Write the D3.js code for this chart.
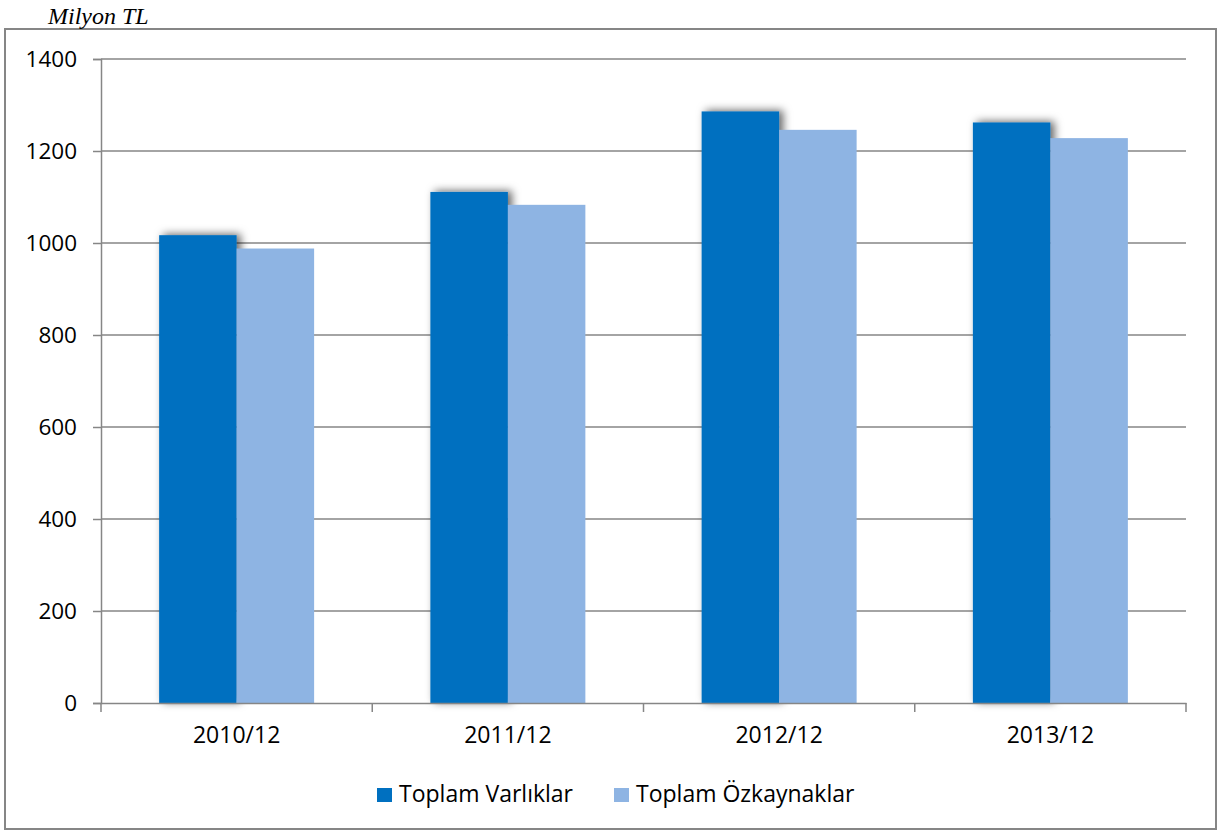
<!DOCTYPE html>
<html>
<head>
<meta charset="utf-8">
<script src="https://cdn.jsdelivr.net/npm/d3@7"></script>
<style>
  body { margin: 0; background: #fff; }
  text { font-family: "Open Sans", "Noto Sans", sans-serif; fill: #000; }
</style>
</head>
<body>
<div id="chart"></div>
<script>
const CATEGORIES = ["2010/12", "2011/12", "2012/12", "2013/12"];
const SERIES = ["Toplam Varlıklar", "Toplam Özkaynaklar"];
const VARLIKLAR = [1017, 1111, 1286, 1262];
const OZKAYNAKLAR = [988, 1083, 1246, 1228];
const Y_TICKS = [0, 200, 400, 600, 800, 1000, 1200, 1400];

const WIDTH = 1222;
const HEIGHT = 832;
const LEFT = 101, RIGHT = 1186, TOP = 59, BOTTOM = 703;
const COLORS = ["#0070C0", "#8EB4E3"];
const GRID = "#868686";

const rows = CATEGORIES.map((c, i) => ({cat: c, values: [VARLIKLAR[i], OZKAYNAKLAR[i]]}));

const svg = d3.select('#chart').append('svg')
    .attr('width', WIDTH)
    .attr('height', HEIGHT);

const defs = svg.append('defs');
const shadow = defs.append('filter')
    .attr('id', 'shadow')
    .attr('x', '-20%').attr('y', '-20%')
    .attr('width', '150%').attr('height', '140%');
shadow.append('feDropShadow')
    .attr('dx', 4).attr('dy', -1)
    .attr('stdDeviation', 4)
    .attr('flood-color', '#000')
    .attr('flood-opacity', 0.6);

// outer frame
svg.append('rect')
    .attr('x', 5).attr('y', 29)
    .attr('width', 1211).attr('height', 800)
    .attr('fill', 'none')
    .attr('stroke', GRID)
    .attr('stroke-width', 2);

svg.append('text')
    .attr('x', 48).attr('y', 24)
    .style('font-family', '"Liberation Serif", "DejaVu Serif", serif')
    .style('font-style', 'italic')
    .style('font-size', '24px')
    .text('Milyon TL');

const y = d3.scaleLinear().domain([0, 1400]).range([BOTTOM, TOP]);
const x = d3.scaleBand().domain(CATEGORIES).range([LEFT, RIGHT])
    .paddingInner(0.4286).paddingOuter(0.2143);
const xs = d3.scaleBand().domain(SERIES).range([0, x.bandwidth()]);

// gridlines
svg.append('g')
    .selectAll('line')
    .data(Y_TICKS.filter(d => d > 0))
    .join('line')
    .attr('x1', LEFT).attr('x2', RIGHT)
    .attr('y1', d => y(d)).attr('y2', d => y(d))
    .attr('stroke', GRID)
    .attr('stroke-width', 1.5);

// bars
const groups = svg.append('g')
    .selectAll('g')
    .data(rows)
    .join('g')
    .attr('transform', d => 'translate(' + x(d.cat) + ',0)');

groups.append('rect')
    .attr('x', xs(SERIES[0]))
    .attr('y', d => y(d.values[0]))
    .attr('width', xs.bandwidth())
    .attr('height', d => y(0) - y(d.values[0]))
    .attr('fill', COLORS[0])
    .attr('filter', 'url(#shadow)');

groups.append('rect')
    .attr('x', xs(SERIES[1]))
    .attr('y', d => y(d.values[1]))
    .attr('width', xs.bandwidth())
    .attr('height', d => y(0) - y(d.values[1]))
    .attr('fill', COLORS[1]);

// y axis
const yAxis = svg.append('g')
    .attr('transform', 'translate(' + LEFT + ',0)')
    .call(d3.axisLeft(y).tickValues(Y_TICKS).tickSize(8).tickPadding(16).tickFormat(d3.format('d')));
yAxis.selectAll('line').attr('stroke', GRID).attr('stroke-width', 1.5);
yAxis.select('.domain').attr('stroke', GRID).attr('stroke-width', 1.5);
yAxis.selectAll('text').style('font-size', '22.5px').style('font-family', '"Open Sans", sans-serif');

// x axis
const xAxis = svg.append('g')
    .attr('transform', 'translate(0,' + BOTTOM + ')')
    .call(d3.axisBottom(x).tickSize(0).tickPadding(24).tickSizeOuter(0));
xAxis.select('.domain').attr('stroke', GRID).attr('stroke-width', 1.5);
xAxis.selectAll('text').style('font-size', '23px').style('font-family', '"Open Sans", sans-serif');

const half = (x.step() - x.bandwidth()) / 2;
const bounds = CATEGORIES.map(c => x(c) - half).concat([x(CATEGORIES[CATEGORIES.length - 1]) + x.bandwidth() + half]);
xAxis.selectAll('line.bound')
    .data(bounds)
    .join('line')
    .attr('class', 'bound')
    .attr('x1', d => d).attr('x2', d => d)
    .attr('y1', 0).attr('y2', 9)
    .attr('stroke', GRID)
    .attr('stroke-width', 1.5);

// legend
const legendPos = [377, 614];
const legend = svg.append('g')
    .selectAll('g')
    .data(SERIES)
    .join('g')
    .attr('transform', (d, i) => 'translate(' + legendPos[i] + ',788)');
legend.append('rect')
    .attr('width', 15).attr('height', 14)
    .attr('fill', (d, i) => COLORS[i]);
legend.append('text')
    .attr('x', 22).attr('y', 14)
    .style('font-size', '23px')
    .text(d => d);
</script>
</body>
</html>
